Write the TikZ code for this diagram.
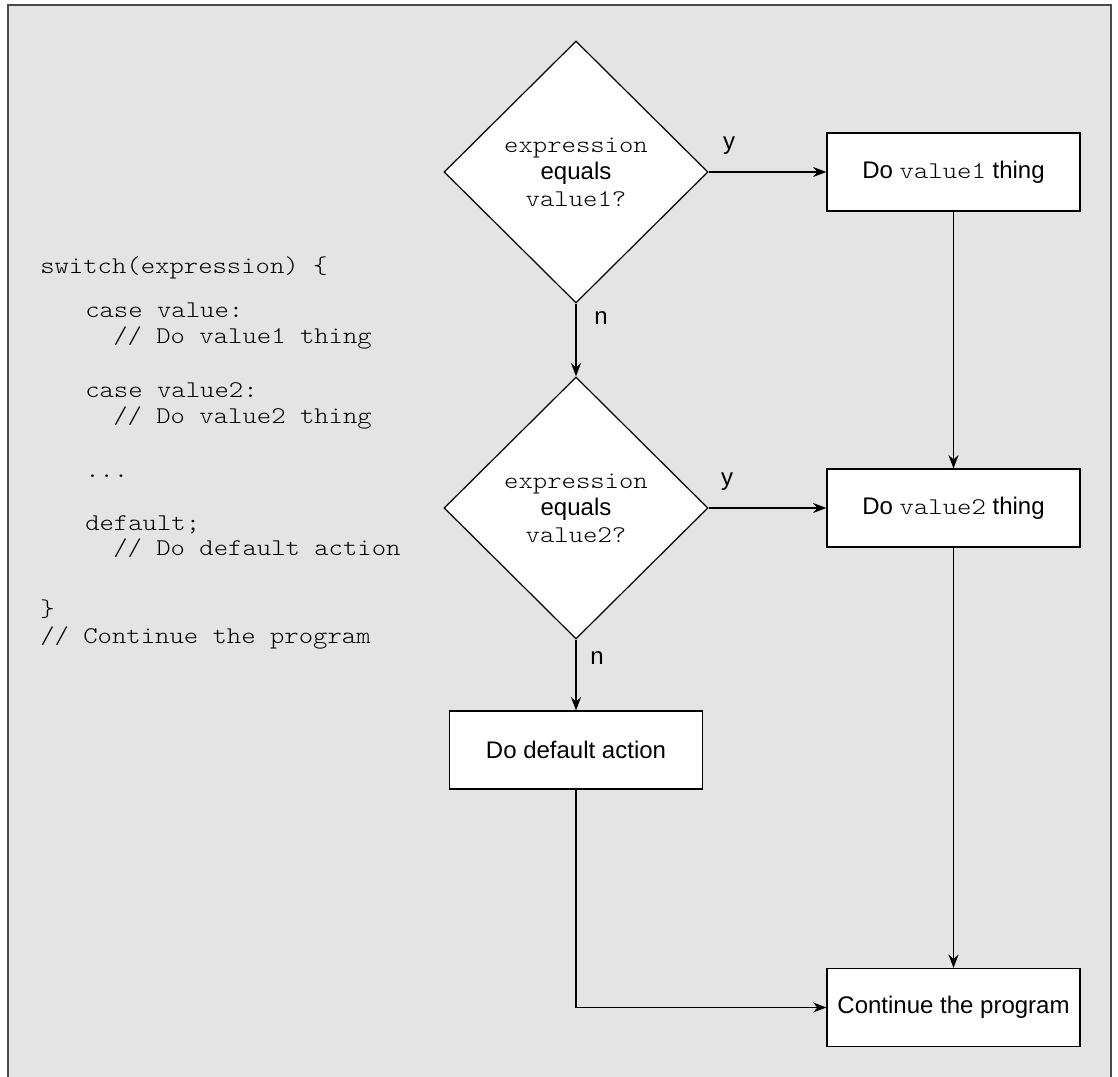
\documentclass[tikz,border=0pt]{standalone}
\usepackage{fontspec}
\setmainfont{Liberation Sans}
\setmonofont{lmmonolt10-regular.otf}[FakeStretch=1.14]
\usetikzlibrary{shapes.geometric,arrows.meta}
\definecolor{panel}{HTML}{E4E4E4}
\definecolor{frame}{HTML}{4A4A4A}
\begin{document}
\begin{tikzpicture}[x=0.75pt,y=-0.75pt,
  every node/.style={font=\fontsize{18}{20.25}\selectfont},
  dec/.style={shape=diamond, draw=black, fill=white, line width=0.9pt, minimum width=198pt, minimum height=196.5pt, inner sep=0pt, align=center},
  act/.style={draw=black, fill=white, line width=0.9pt, minimum width=189.75pt, minimum height=58.5pt, inner sep=0pt, align=center},
  conn/.style={line width=1pt, -{Stealth[length=10pt,width=7.5pt]}},
  code/.style={anchor=base west, inner sep=0pt, font=\ttfamily\fontsize{18}{20.25}\selectfont},
  lab/.style={inner sep=0pt}]
\useasboundingbox (0,0) rectangle (1118,1077);
\fill[panel] (8,5) rectangle (1111,1077);
\draw[frame, line width=1.6pt] (8,1077) -- (8,5) -- (1111,5) -- (1111,1077);

% code listing
\node[code] (c1) at (40,273) {switch(expression) \{};
\node[code] (c2) at (85,317) {case value:};
\node[code] (c3) at (113,343) {// Do value1 thing};
\node[code] (c4) at (85,397) {case value2:};
\node[code] (c5) at (113,423) {// Do value2 thing};
\node[code] (c6) at (85,477) {...};
\node[code] (c7) at (85,530) {default;};
\node[code] (c8) at (113,555) {// Do default action};
\node[code] (c9) at (40,616) {\}};
\node[code] (c10) at (40,643) {// Continue the program};

% flowchart
\node[dec] (d1) at (576,172) {\texttt{expression}\\equals\\\texttt{value1?}};
\node[dec] (d2) at (576,508) {\texttt{expression}\\equals\\\texttt{value2?}};
\node[act] (b1) at (953.5,172) {Do \texttt{value1} thing};
\node[act] (b2) at (953.5,508) {Do \texttt{value2} thing};
\node[act] (bd) at (576,750) {Do default action};
\node[act] (bc) at (953.5,1007.5) {Continue the program};

\node[lab] (y1) at (729,146) {y};
\node[lab] (y2) at (727,482) {y};
\node[lab] (n1) at (601,318) {n};
\node[lab] (n2) at (597,658) {n};

\draw[conn] (d1.east) -- (b1.west);
\draw[conn] (d2.east) -- (b2.west);
\draw[conn] (d1.south) -- (d2.north);
\draw[conn] (d2.south) -- (bd.north);
\draw[conn] (b1.south) -- (b2.north);
\draw[conn] (b2.south) -- (bc.north);
\draw[conn] (bd.south) |- (bc.west);
\end{tikzpicture}
\end{document}
